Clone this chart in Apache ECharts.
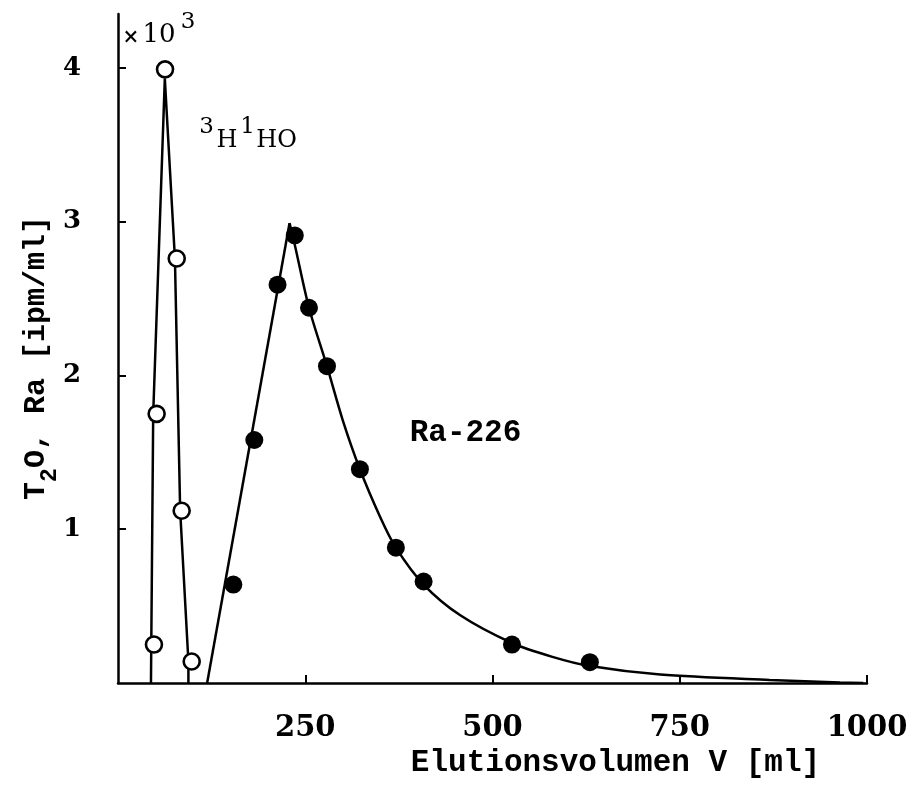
<!DOCTYPE html>
<html><head><meta charset="utf-8">
<script src="https://cdn.jsdelivr.net/npm/echarts@6/dist/echarts.min.js"></script>
<style>html,body{margin:0;padding:0;background:#fff}#c{width:912px;height:798px}</style>
</head><body><div id="c"></div>
<script>
// Tick values
const xTicks = [250, 500, 750, 1000];
const yTicks = [1, 2, 3, 4];
// 3H1HO (open circles), units x10^3 ipm/ml
const tritiumV = [48, 51.6, 62.8, 78.4, 85, 98.4];
const tritiumY = [0.25, 1.75, 3.99, 2.76, 1.12, 0.14];
// 3H1HO connecting line
const tritiumCurveV = [44, 47, 62.5, 76, 83, 94, 94];
const tritiumCurveY = [0, 1.75, 3.93, 2.76, 1.12, 0.14, 0];
// Ra-226 (filled dots)
const raV = [154, 182, 213, 236, 255, 279, 323, 371, 408, 526, 630];
const raY = [0.64, 1.58, 2.59, 2.91, 2.44, 2.06, 1.39, 0.88, 0.66, 0.25, 0.135];
// Ra-226 fitted curve: rising edge and falling edge
const raRiseV = [119, 229];
const raRiseY = [0, 2.99];
const raFallV = [229, 236, 255, 279, 300, 323, 350, 371, 408, 457, 526, 580, 630, 724, 870, 964, 995];
const raFallY = [2.99, 2.85, 2.44, 2.06, 1.71, 1.39, 1.08, 0.88, 0.64, 0.44, 0.26, 0.17, 0.11, 0.055, 0.02, 0.004, 0];

const zip = (a, b) => a.map((v, i) => [v, b[i]]);
const BLACK = '#000';
const MONO = 'Liberation Mono';
const SERIF = 'DejaVu Serif';

const chart = echarts.init(document.getElementById('c'), null, {renderer: 'canvas'});
chart.setOption({
  animation: false,
  backgroundColor: '#fff',
  grid: {left: 118, right: 45, top: 14, bottom: 115},
  xAxis: {
    type: 'value', min: 0, max: 1000,
    splitLine: {show: false},
    axisLine: {show: true, onZero: false, lineStyle: {color: BLACK, width: 2.5}},
    axisTick: {show: true, inside: true, length: 8, customValues: xTicks, lineStyle: {color: BLACK, width: 2}},
    axisLabel: {customValues: xTicks, margin: 31, color: BLACK, fontFamily: SERIF, fontSize: 29, fontWeight: 'bold',
      formatter: v => String(v)}
  },
  yAxis: {
    type: 'value', min: 0, max: 4.35,
    splitLine: {show: false},
    axisLine: {show: true, lineStyle: {color: BLACK, width: 2.5}},
    axisTick: {show: true, inside: true, length: 8, customValues: yTicks, lineStyle: {color: BLACK, width: 2}},
    axisLabel: {customValues: yTicks, margin: 37, color: BLACK, fontFamily: SERIF, fontSize: 26, fontWeight: 'bold',
      formatter: v => String(v)}
  },
  series: [
    {type: 'line', data: zip(tritiumCurveV, tritiumCurveY), showSymbol: false, symbol: 'none',
     lineStyle: {color: BLACK, width: 2.5}, z: 2},
    {type: 'line', data: zip(raRiseV, raRiseY), showSymbol: false, symbol: 'none',
     lineStyle: {color: BLACK, width: 2.5}, z: 2},
    {type: 'line', data: zip(raFallV, raFallY), showSymbol: false, symbol: 'none', smooth: 0.3,
     lineStyle: {color: BLACK, width: 2.5}, z: 2},
    {type: 'scatter', data: zip(tritiumV, tritiumY), symbol: 'circle', symbolSize: 16,
     itemStyle: {color: '#fff', borderColor: BLACK, borderWidth: 2.6, opacity: 1}, z: 4},
    {type: 'scatter', data: zip(raV, raY), symbol: 'circle', symbolSize: 18,
     itemStyle: {color: BLACK, opacity: 1}, z: 4}
  ],
  graphic: [
    {type: 'text', x: 131, y: 38, style: {text: '×', fontFamily: SERIF, fontSize: 20, fontWeight: 'bold', fill: BLACK, align: 'center', verticalAlign: 'middle'}},
    {type: 'text', x: 159, y: 35, style: {text: '10', fontFamily: SERIF, fontSize: 26, fill: BLACK, align: 'center', verticalAlign: 'middle'}},
    {type: 'text', x: 188, y: 22, style: {text: '3', fontFamily: SERIF, fontSize: 23, fill: BLACK, align: 'center', verticalAlign: 'middle'}},
    {type: 'text', x: 206.5, y: 127, style: {text: '3', fontFamily: SERIF, fontSize: 23, fill: BLACK, align: 'center', verticalAlign: 'middle'}},
    {type: 'text', x: 227, y: 141, style: {text: 'H', fontFamily: SERIF, fontSize: 24, fill: BLACK, align: 'center', verticalAlign: 'middle'}},
    {type: 'text', x: 247.5, y: 127, style: {text: '1', fontFamily: SERIF, fontSize: 23, fill: BLACK, align: 'center', verticalAlign: 'middle'}},
    {type: 'text', x: 276.5, y: 141, style: {text: 'HO', fontFamily: SERIF, fontSize: 24, fill: BLACK, align: 'center', verticalAlign: 'middle'}},
    {type: 'text', x: 465.5, y: 433, style: {text: 'Ra-226', fontFamily: MONO, fontSize: 31, fontWeight: 'bold', fill: BLACK, align: 'center', verticalAlign: 'middle'}},
    {type: 'text', x: 615.5, y: 763, style: {text: 'Elutionsvolumen V [ml]', fontFamily: MONO, fontSize: 31, fontWeight: 'bold', fill: BLACK, align: 'center', verticalAlign: 'middle'}},
    {type: 'text', x: 36, y: 358, rotation: Math.PI / 2,
     style: {text: '{m|T}{s|2}{m|O, Ra [ipm/ml]}', fill: BLACK, align: 'center', verticalAlign: 'middle',
       rich: {
         m: {fontFamily: MONO, fontSize: 30, fontWeight: 'bold', lineHeight: 30, verticalAlign: 'top', fill: BLACK},
         s: {fontFamily: MONO, fontSize: 23, fontWeight: 'bold', lineHeight: 23, padding: [18, 0, 0, 0], verticalAlign: 'top', fill: BLACK}
       }}}
  ]
});
</script></body></html>
